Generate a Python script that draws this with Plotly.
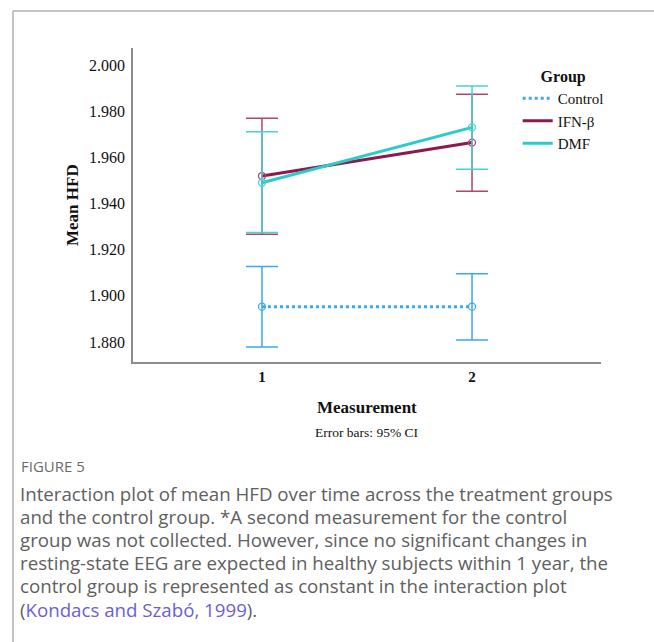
import plotly.graph_objects as go

# ---- data ----
measurement = [1, 2]
groups = ["Control", "IFN-β", "DMF"]
control_mean = [1.8953, 1.8953]
control_upper = [1.9127, 1.9095]
control_lower = [1.8778, 1.8808]
ifn_mean = [1.9519, 1.9664]
ifn_upper = [1.9769, 1.9874]
ifn_lower = [1.9267, 1.9453]
dmf_mean = [1.9490, 1.9730]
dmf_upper = [1.9711, 1.9909]
dmf_lower = [1.9274, 1.9548]
y_ticks = [1.880, 1.900, 1.920, 1.940, 1.960, 1.980, 2.000]

caption_lines = [
    "Interaction plot of mean HFD over time across the treatment groups",
    "and the control group. *A second measurement for the control",
    "group was not collected. However, since no significant changes in",
    "resting-state EEG are expected in healthy subjects within 1 year, the",
    "control group is represented as constant in the interaction plot",
    "(<span style='color:#6a5fd8'>Kondacs and Szabó, 1999</span>).",
]

SERIF = "Liberation Serif, Times New Roman, serif"

fig = go.Figure()

series = [
    ("Control", control_mean, control_upper, control_lower, "#3aa9ef", "#3aa9ef", "dot", 3),
    ("IFN-β", ifn_mean, ifn_upper, ifn_lower, "#8c1a4c", "#b0466f", "solid", 3),
    ("DMF", dmf_mean, dmf_upper, dmf_lower, "#2ccbcb", "#45d3d3", "solid", 3),
]
for name, m, up, lo, col, ecol, dash, lw in series:
    fig.add_trace(go.Scatter(
        x=measurement, y=m, name=name, mode="lines+markers", showlegend=False,
        line=dict(color=col, width=lw, dash=dash),
        marker=dict(symbol="circle-open", size=7, color=ecol, line=dict(width=1.3)),
        error_y=dict(type="data", symmetric=False,
                     array=[u - v for u, v in zip(up, m)],
                     arrayminus=[v - l for v, l in zip(m, lo)],
                     color=ecol, thickness=1.5, width=16),
    ))
# legend entries (lines only)
for name, m, up, lo, col, ecol, dash, lw in series:
    fig.add_trace(go.Scatter(
        x=[None], y=[None], name=name, mode="lines", showlegend=True,
        line=dict(color=col, width=lw, dash=dash),
    ))

fig.update_layout(
    width=654, height=642,
    margin=dict(l=133, r=53, t=48, b=280),
    plot_bgcolor="white", paper_bgcolor="white",
    showlegend=True,
    legend=dict(
        x=0.822, y=0.958, xanchor="left", yanchor="top",
        bgcolor="rgba(0,0,0,0)",
        font=dict(family=SERIF, size=15, color="#111"),
        title=dict(text="<b>Group</b>", side="top center",
                   font=dict(family=SERIF, size=16, color="#111")),
        tracegroupgap=0, itemwidth=30,
    ),
    font=dict(family=SERIF, color="#111"),
)

fig.update_xaxes(
    range=[0.386, 2.614], tickvals=measurement, ticktext=["<b>1</b>", "<b>2</b>"],
    showgrid=False, zeroline=False, showline=True, linecolor="#8c8c8c", linewidth=1.5,
    ticks="", tickfont=dict(family=SERIF, size=15, color="#111"),
)
fig.update_yaxes(
    range=[1.8713, 2.0074], tickvals=y_ticks, ticktext=[f"{v:.3f}" for v in y_ticks],
    showgrid=False, zeroline=False, showline=True, linecolor="#8c8c8c", linewidth=1.5,
    ticks="", ticklabelstandoff=3, tickfont=dict(family=SERIF, size=16, color="#111"),
)

H = 314.0
W = 468.0
def py(pix):
    return (362 - pix) / H
def px(pix):
    return (pix - 133) / W

ann = []
ann.append(dict(text="<b>Mean HFD</b>", x=px(72), y=py(205), textangle=-90,
                font=dict(family=SERIF, size=17, color="#111")))
ann.append(dict(text="<b>Measurement</b>", x=px(367), y=py(407),
                font=dict(family=SERIF, size=17, color="#111")))
ann.append(dict(text="Error bars: 95% CI", x=px(367), y=py(432),
                font=dict(family=SERIF, size=13.5, color="#111")))
ann.append(dict(text="FIGURE 5", x=px(19), y=py(466), xanchor="left",
                font=dict(family="Open Sans", size=15, color="#6b6b6b")))
for i, line in enumerate(caption_lines):
    ann.append(dict(text=line, x=px(18), y=py(493 + i * 23.2), xanchor="left",
                    font=dict(family="Open Sans", size=18.7, color="#606060")))
for a in ann:
    a.update(xref="paper", yref="paper", showarrow=False)
    a.setdefault("xanchor", "center")
    a.setdefault("yanchor", "middle")
fig.update_layout(annotations=ann)

fig.add_shape(type="line", xref="paper", yref="paper",
              x0=px(13), x1=px(13), y0=py(11), y1=py(650),
              line=dict(color="#b0b0b0", width=1.5))
fig.add_shape(type="line", xref="paper", yref="paper",
              x0=px(13), x1=px(660), y0=py(11), y1=py(11),
              line=dict(color="#b0b0b0", width=1.5))

fig.write_html("out.html")
